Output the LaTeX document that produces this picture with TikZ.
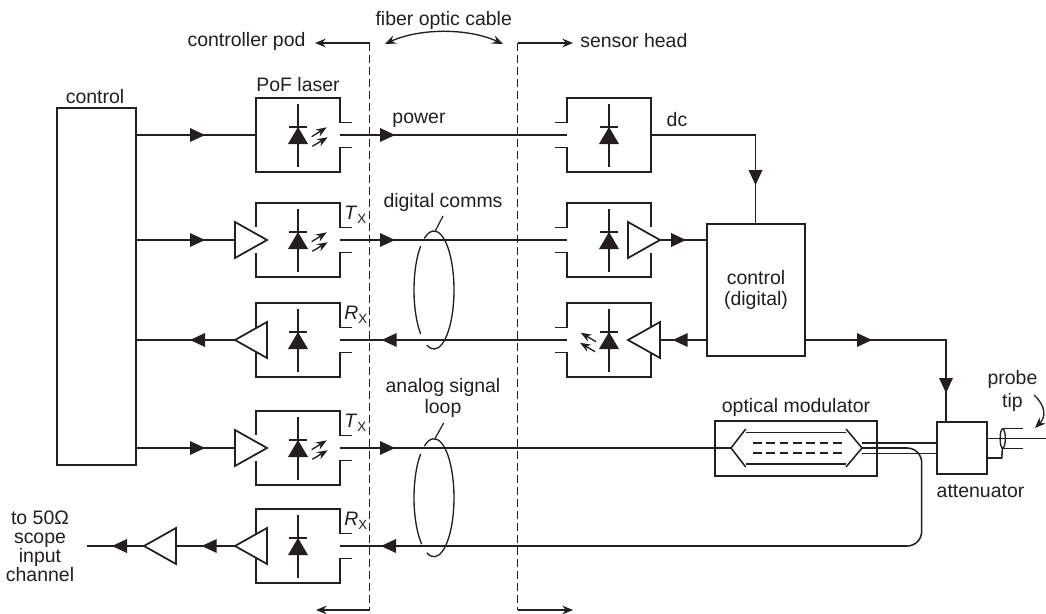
\documentclass[tikz,border=0pt]{standalone}
\usepackage{fontspec}
\setmainfont{Liberation Sans}
\usetikzlibrary{calc,arrows.meta}
\definecolor{ink}{HTML}{231F20}
\newcommand\lab[1]{\fontsize{14.6}{#1}\selectfont}
\tikzset{
  wire/.style={draw=ink,line width=1.15pt,line join=miter},
  txt/.style={text=ink,inner sep=0pt,font=\lab{15.5},align=center},
  blockbox/.style={draw=ink,line width=1.15pt,inner sep=0pt,outer sep=0pt},
  cellbox/.style={inner sep=0pt,outer sep=0pt,minimum width=63pt,minimum height=55.5pt},
  tipb/.style={-{Stealth[length=8pt,width=6.5pt]}},
  ampshape/.style={draw=ink,line width=1.3pt,fill=white,line join=miter},
}
% filled arrowhead in mid-line: tip x, y, direction (+1 points right, -1 points left)
\newcommand\headH[3]{\fill[ink] (#1,#2) -- ++(-15*#3,-7) -- ++(0,14) -- cycle;}
\newcommand\headV[2]{\fill[ink] (#1,#2) -- ++(-7,-15) -- ++(14,0) -- cycle;}
% pod cell: name, y, half gap in west edge
\newcommand\podcell[3]{%
  \node[cellbox] (#1) at (298,#2) {};
  \draw[wire] ($(#1.east)+(12,-12.5)$) -- ($(#1.east)+(0,-12.5)$) -- (#1.north east) -- (#1.north west) -- ($(#1.west)+(0,-#3)$);
  \draw[wire] ($(#1.west)+(0,#3)$) -- (#1.south west) -- (#1.south east) -- ($(#1.east)+(0,12.5)$) -- ($(#1.east)+(12,12.5)$);
  \diode{298}{#2}}
% sensor cell: name, y, half gap in east edge
\newcommand\sencell[3]{%
  \node[cellbox] (#1) at (609,#2) {};
  \draw[wire] ($(#1.west)+(-12,-12.5)$) -- ($(#1.west)+(0,-12.5)$) -- (#1.north west) -- (#1.north east) -- ($(#1.east)+(0,-#3)$);
  \draw[wire] ($(#1.east)+(0,#3)$) -- (#1.south east) -- (#1.south west) -- ($(#1.west)+(0,12.5)$) -- ($(#1.west)+(-12,12.5)$);
  \diode{609}{#2}}
\newcommand\diode[2]{%
  \draw[wire] (#1,#2-31) -- (#1,#2+32);
  \draw[wire] (#1-9,#2-8) -- (#1+9,#2-8);
  \fill[ink] (#1,#2-8) -- (#1+10,#2+9) -- (#1-10,#2+9) -- cycle;}
% amplifier: name, tip x, base x, y
\newcommand\amp[4]{%
  \coordinate (#1-tip) at (#2,#4);
  \coordinate (#1-base) at (#3,#4);
  \draw[ampshape] (#2,#4) -- (#3,#4-18) -- (#3,#4+18) -- cycle;}
% light arrows, x y of start, x y of end
\newcommand\lightarrow[4]{\draw[draw=ink,line width=1pt,-{Stealth[length=8pt,width=6pt]}] (#1,#2) -- (#3,#4);}
\newcommand\emitR[1]{\lightarrow{311.7}{#1+1.7}{326.7}{#1-7.7}\lightarrow{312.3}{#1+11.3}{327.7}{#1+2.3}}
\newcommand\subX{{\fontsize{10}{12}\selectfont\raisebox{-3pt}{X}}}
\begin{document}
\begin{tikzpicture}[x=0.75pt,y=-0.75pt]
\useasboundingbox (0,0) rectangle (1046,614);

% main blocks
\node[blockbox,minimum width=59.25pt,minimum height=267.75pt] (ctrl) at (96.5,286.5) {};
\node[blockbox,minimum width=73.5pt,minimum height=99pt,txt,font=\lab{15.8}] (digi) at (756,290) {control\\(digital)};
\node[blockbox,minimum width=121.5pt,minimum height=41.25pt] (mod) at (796,448.5) {};
\node[blockbox,minimum width=37.5pt,minimum height=39pt] (att) at (962,448) {};

% cells
\podcell{p1}{135}{0}
\podcell{p2}{240}{13}
\podcell{p3}{340}{0}
\podcell{p4}{448}{13}
\podcell{p5}{546}{0}
\sencell{s1}{135}{0}
\sencell{s2}{240}{13}
\sencell{s3}{340}{0}

% control -> pod connectors
\coordinate (bendr) at (921.7,546);
\amp{a2}{267}{235}{240}
\amp{a3}{235}{267}{340}
\amp{a4}{267}{235}{448}
\amp{a5}{235}{267}{546}
\amp{a6}{144}{176}{546}
\amp{a7}{660}{628}{240}
\amp{a8}{628}{660}{340}
\emitR{135}\emitR{240}\emitR{448}
\lightarrow{596}{341.7}{580.7}{332.7}
\lightarrow{595}{351.7}{580}{342.7}

\draw[wire] (ctrl.east |- p1.west) -- (p1.west);
\draw[wire] (ctrl.east |- a2-base) -- (a2-base);
\draw[wire] (ctrl.east |- a3-tip) -- (a3-tip);
\draw[wire] (ctrl.east |- a4-base) -- (a4-base);
\draw[wire] (a5-tip) -- (a6-base);
\coordinate (outend) at (86.7,546);
\draw[wire] (a6-tip) -- (outend);

% fibre links
\draw[wire] (p1.east) -- (s1.west);
\draw[wire] (p2.east) -- (s2.west);
\draw[wire] (p3.east) -- (s3.west);
\coordinate (modL) at (731,448);
\coordinate (modR) at (862,448);
\coordinate (modU) at (862,443);
\coordinate (modD) at (862,453.5);
\draw[wire] (p4.east) -- (modL);
\draw[wire,rounded corners=11pt] (modR) -- (bendr |- modR) -- (bendr) -- (p5.east);
\draw[wire] (modU) -- (modU -| att.west);
\draw[wire] (modD) -- (modD -| att.west);

% sensor connectors
\draw[wire] (a7-tip) -- (a7-tip -| digi.west);
\draw[wire] (a8-base) -- (a8-base -| digi.west);
\coordinate (dcbend) at (755.5,135);
\draw[wire] (s1.east) -- (dcbend) -- (digi.north -| dcbend);
\coordinate (attbend) at (946,340);
\draw[wire] (digi.east |- attbend) -- (attbend) -- (att.north -| attbend);

% mid-line heads
\headH{205}{135}{1}\headH{205}{240}{1}\headH{190}{340}{-1}\headH{205}{448}{1}
\headH{201.7}{546}{-1}\headH{112}{546}{-1}
\headH{395}{135}{1}\headH{395}{240}{1}\headH{381.7}{340}{-1}\headH{395}{448}{1}\headH{381}{546}{-1}
\headH{686}{240}{1}\headH{672.7}{340}{-1}\headH{872}{340}{1}
\headV{755.5}{185}\headV{946}{393}

% modulator interior
\draw[wire] (745.7,429) -- (modL) -- (745.7,467);
\draw[wire] (846,429) -- (modR) -- (846,467);
\draw[wire] (746,432.7) -- (846,432.7);
\draw[wire] (746,464) -- (846,464);
\draw[wire,dash pattern=on 6.4pt off 3.6pt,line width=1pt] (753,443) -- (842,443);
\draw[wire,dash pattern=on 6.4pt off 3.6pt,line width=1pt] (753,453) -- (842,453);

% probe tip
\coordinate (tipEnd) at (1046,438.7);
\draw[wire] (att.east |- tipEnd) -- (tipEnd);
\draw[wire] (att.east |- 0,458) -- (1001.7,458) -- (1002.5,448);
\draw[wire,line width=1pt] (1002.7,438.5) ellipse [x radius=2.6,y radius=9.7];
\draw[wire,line width=1pt] (1002.7,428.8) -- (1022.7,428.8);
\draw[wire,line width=1pt] (1002.7,448.2) -- (1022.7,448.2);
\draw[draw=ink,line width=1pt,tipb] (1034,395) .. controls (1046,406) and (1046,417) .. (1035,428);

% fibre bundle loops
\draw[wire,line width=1pt] (434,290) ++(111:20 and 59) arc [start angle=111,end angle=-119,x radius=20,y radius=59];
\draw[wire,line width=1pt] (434,290) ++(132:20 and 59) arc [start angle=132,end angle=228,x radius=20,y radius=59];
\draw[wire,line width=1pt] (434,497.7) ++(111:20 and 59) arc [start angle=111,end angle=-119,x radius=20,y radius=59];
\draw[wire,line width=1pt] (434,497.7) ++(128:20 and 59) arc [start angle=128,end angle=228,x radius=20,y radius=59];
\coordinate (ldA) at (443,216);
\coordinate (ldB) at (435,231.5);
\coordinate (ldC) at (443.7,423);
\coordinate (ldD) at (435,438.5);
\draw[wire,line width=0.9pt] (ldA) -- (ldB);
\draw[wire,line width=0.9pt] (ldC) -- (ldD);

% domain boundaries
\coordinate (lt) at (369.7,43);
\coordinate (lb) at (369.7,610);
\coordinate (rt) at (517.7,43);
\coordinate (rb) at (517.7,610);
\draw[wire,dash pattern=on 6pt off 3pt,line width=1pt] (lt) -- (lb);
\draw[wire,dash pattern=on 6pt off 3pt,line width=1pt] (rt) -- (rb);
\coordinate (ltA) at (315,43);\coordinate (lbA) at (316,610);
\coordinate (rtA) at (573,43);\coordinate (rbA) at (573,610);
\draw[wire,tipb,line width=1pt] (lt) -- (ltA);
\draw[wire,tipb,line width=1pt] (lb) -- (lbA);
\draw[wire,tipb,line width=1pt] (rt) -- (rtA);
\draw[wire,tipb,line width=1pt] (rb) -- (rbA);
\coordinate (fa) at (385,44);\coordinate (fb) at (503,44);
\draw[wire,line width=1pt,{Stealth[length=8pt,width=6.5pt]}-{Stealth[length=8pt,width=6.5pt]}] (fa) .. controls (420,28) and (468,28) .. (fb);

% labels
\node[txt] (l1) at (443.7,20) {fiber optic cable};
\node[txt] (l2) at (246.5,41) {controller pod};
\node[txt,anchor=west] (l3) at (580,41) {sensor head};
\node[txt] (l4) at (95,97) {control};
\node[txt] (l5) at (298,85) {PoF laser};
\node[txt] (l6) at (419,120) {power};
\node[txt] (l7) at (677,120) {dc};
\node[txt] (l8) at (443,202) {digital comms};
\node[txt,font=\lab{15.8}] (l9) at (443,397.5) {analog signal\\loop};
\node[txt] (l10) at (796,407) {optical modulator};
\node[txt,font=\lab{17.7}] (l11) at (1012.5,391) {probe\\tip};
\node[txt] (l12) at (980.5,491) {attenuator};
\node[txt,font=\lab{14.2}] (l13) at (40,546.5) {to 50Ω\\scope\\input\\channel};
\node[txt,anchor=west] (t1) at (344,215) {\textit{T}\subX};
\node[txt,anchor=west] (t2) at (344,315) {\textit{R}\subX};
\node[txt,anchor=west] (t3) at (344,423) {\textit{T}\subX};
\node[txt,anchor=west] (t4) at (344,521) {\textit{R}\subX};
\end{tikzpicture}
\end{document}
